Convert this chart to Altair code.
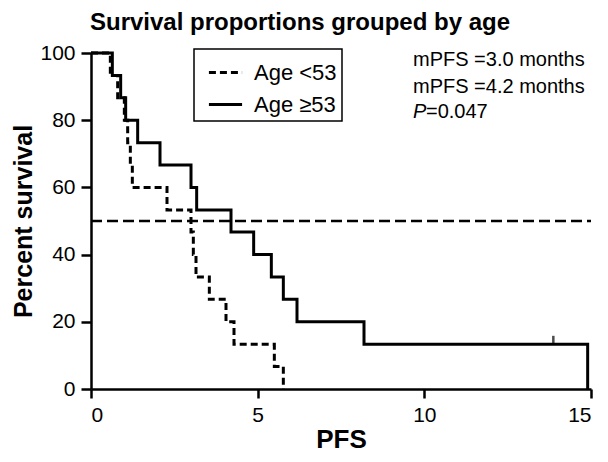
import altair as alt
import pandas as pd

groups = ["Age <53", "Age ≥53"]

young_time = [0, 0.58, 0.8, 1.0, 1.1, 1.18, 1.24, 2.28, 3.0, 3.07, 3.15, 3.55, 4.05, 4.29, 5.5, 5.77]
young_surv = [100, 93.3, 86.7, 80, 73.3, 66.7, 60, 53.3, 46.7, 40, 33.3, 26.7, 20, 13.3, 6.7, 0]

old_time = [0, 0.64, 0.89, 1.04, 1.4, 2.07, 3.0, 3.17, 4.2, 4.88, 5.41, 5.77, 6.18, 8.19, 14.9]
old_surv = [100, 93.3, 86.7, 80, 73.3, 66.7, 60, 53.3, 46.7, 40, 33.3, 26.7, 20, 13.3, 0]

censor_time = [13.87]
censor_surv = [13.3]

median_level = [50]
x_ticks = [0, 5, 10, 15]
y_ticks = [0, 20, 40, 60, 80, 100]

stat_lines = ["mPFS =3.0 months", "mPFS =4.2 months"]
p_label = "P"
p_value = "=0.047"

FONT = "Liberation Sans"

curves = pd.concat([
    pd.DataFrame({"time": young_time, "surv": young_surv, "group": groups[0]}),
    pd.DataFrame({"time": old_time, "surv": old_surv, "group": groups[1]}),
])
censor = pd.DataFrame({"time": censor_time, "surv": censor_surv, "group": groups[1]})
median = pd.DataFrame({"level": median_level})

x_scale = alt.Scale(domain=[0, 15], nice=False)
y_scale = alt.Scale(domain=[0, 100], nice=False)

x_axis = alt.Axis(values=x_ticks, title="PFS", titleFontSize=26, titleFontWeight="bold",
                  titlePadding=1, labelFontSize=21, labelPadding=6, tickSize=9)
y_axis = alt.Axis(values=y_ticks, title="Percent survival", titleFontSize=25, titleFontWeight="bold",
                  titlePadding=3, labelFontSize=21, labelPadding=6, tickSize=10)

lines = alt.Chart(curves).mark_line(interpolate="step-after", color="black", strokeWidth=3).encode(
    x=alt.X("time:Q", scale=x_scale, axis=x_axis),
    y=alt.Y("surv:Q", scale=y_scale, axis=y_axis),
    strokeDash=alt.StrokeDash(
        "group:N",
        scale=alt.Scale(domain=groups, range=[[7, 4], [1, 0]]),
        sort=groups,
        legend=alt.Legend(
            title=None, orient="none", legendX=103, legendY=-4,
            symbolType="stroke", symbolSize=1100, symbolStrokeWidth=3,
            symbolStrokeColor="black", symbolOffset=8,
            labelFontSize=22, labelFont=FONT, labelColor="black", labelOffset=10,
            rowPadding=2, padding=5, strokeColor="black", fillColor="white",
        ),
    ),
)

ticks = alt.Chart(censor).mark_tick(orient="vertical", color="black", size=9, thickness=2.5, yOffset=-4).encode(
    x=alt.X("time:Q", scale=x_scale),
    y=alt.Y("surv:Q", scale=y_scale),
)

median_rule = alt.Chart(median).mark_rule(color="black", strokeWidth=2.5, strokeDash=[11, 5]).encode(
    x=alt.datum(0, scale=x_scale),
    x2=alt.datum(15),
    y=alt.Y("level:Q", scale=y_scale),
)

text_style = dict(font=FONT, fontSize=20, color="black", align="left", baseline="middle")
stat1 = alt.Chart(pd.DataFrame({"t": [stat_lines[0]]})).mark_text(**text_style).encode(
    x=alt.datum(9.66), y=alt.datum(98.0), text="t:N")
stat2 = alt.Chart(pd.DataFrame({"t": [stat_lines[1]]})).mark_text(**text_style).encode(
    x=alt.datum(9.66), y=alt.datum(90.0), text="t:N")
stat3a = alt.Chart(pd.DataFrame({"t": [p_label]})).mark_text(fontStyle="italic", **text_style).encode(
    x=alt.datum(9.66), y=alt.datum(82.4), text="t:N")
stat3b = alt.Chart(pd.DataFrame({"t": [p_value]})).mark_text(dx=13, **text_style).encode(
    x=alt.datum(9.66), y=alt.datum(82.4), text="t:N")

chart = alt.layer(median_rule, lines, ticks, stat1, stat2, stat3a, stat3b).properties(
    width=500, height=336,
    title=alt.TitleParams("Survival proportions grouped by age", fontSize=24, fontWeight="bold",
                          font=FONT, color="black", anchor="middle", dx=-41, offset=7),
    padding={"left": 3, "top": 3, "right": 0, "bottom": 0},
).configure_axis(
    domainColor="black", domainWidth=2.5, tickColor="black", tickWidth=2.5,
    labelColor="black", titleColor="black", labelFont=FONT, titleFont=FONT, grid=False,
).configure_view(stroke=None).configure_legend(strokeWidth=1.5)

chart.save("out.html", embed_options={"renderer": "svg", "actions": False})
